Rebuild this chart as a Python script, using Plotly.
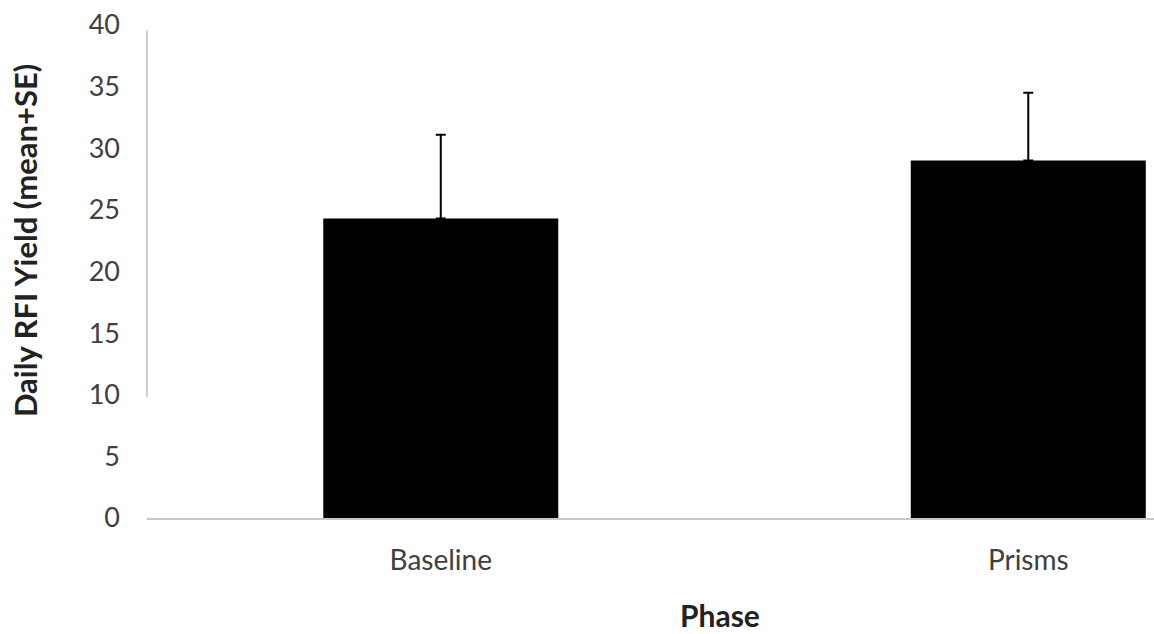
import plotly.graph_objects as go

phases = ["Baseline", "Prisms"]
means = [24.3, 29.0]
se = [6.8, 5.5]
y_ticks = [0, 5, 10, 15, 20, 25, 30, 35, 40]

font = "Lato, 'Open Sans', sans-serif"

fig = go.Figure()
fig.add_trace(go.Bar(
    x=phases, y=means, width=0.4,
    marker=dict(color="black", line=dict(width=0)),
    error_y=dict(type="data", symmetric=False, array=se, arrayminus=[0, 0],
                 color="black", thickness=2, width=5),
))

# faint partial vertical axis line as in the reference
fig.add_shape(type="line", xref="paper", yref="y", x0=0, x1=0, y0=9.8, y1=39.6,
              line=dict(color="#d0d0d0", width=2))

fig.add_annotation(text="<b>Phase</b>", xref="paper", yref="paper",
                   x=0.569, y=-0.196, xanchor="center", yanchor="middle",
                   showarrow=False, font=dict(family=font, size=30, color="#222222"))
fig.add_annotation(text="<b>Daily RFI Yield (mean+SE)</b>", xref="paper", yref="paper",
                   x=-0.121, y=0.562, xanchor="center", yanchor="middle", textangle=-90,
                   showarrow=False, font=dict(family=font, size=31, color="#222222"))

fig.update_layout(
    width=1154, height=634,
    margin=dict(l=147, r=0, t=25, b=116),
    plot_bgcolor="white", paper_bgcolor="white",
    showlegend=False,
    font=dict(family=font, size=20, color="#404040"),
)
fig.update_xaxes(range=[-0.5, 1.214], showline=True, linecolor="#c8c8c8", linewidth=2,
                 ticks="", showgrid=False, ticklabelstandoff=16,
                 tickfont=dict(family=font, size=28, color="#404040"))
fig.update_yaxes(range=[0, 40], tickvals=y_ticks, showgrid=False, zeroline=False,
                 showline=False, ticks="", ticklabelstandoff=26,
                 tickfont=dict(family=font, size=27, color="#404040"))

fig.write_html("out.html")
